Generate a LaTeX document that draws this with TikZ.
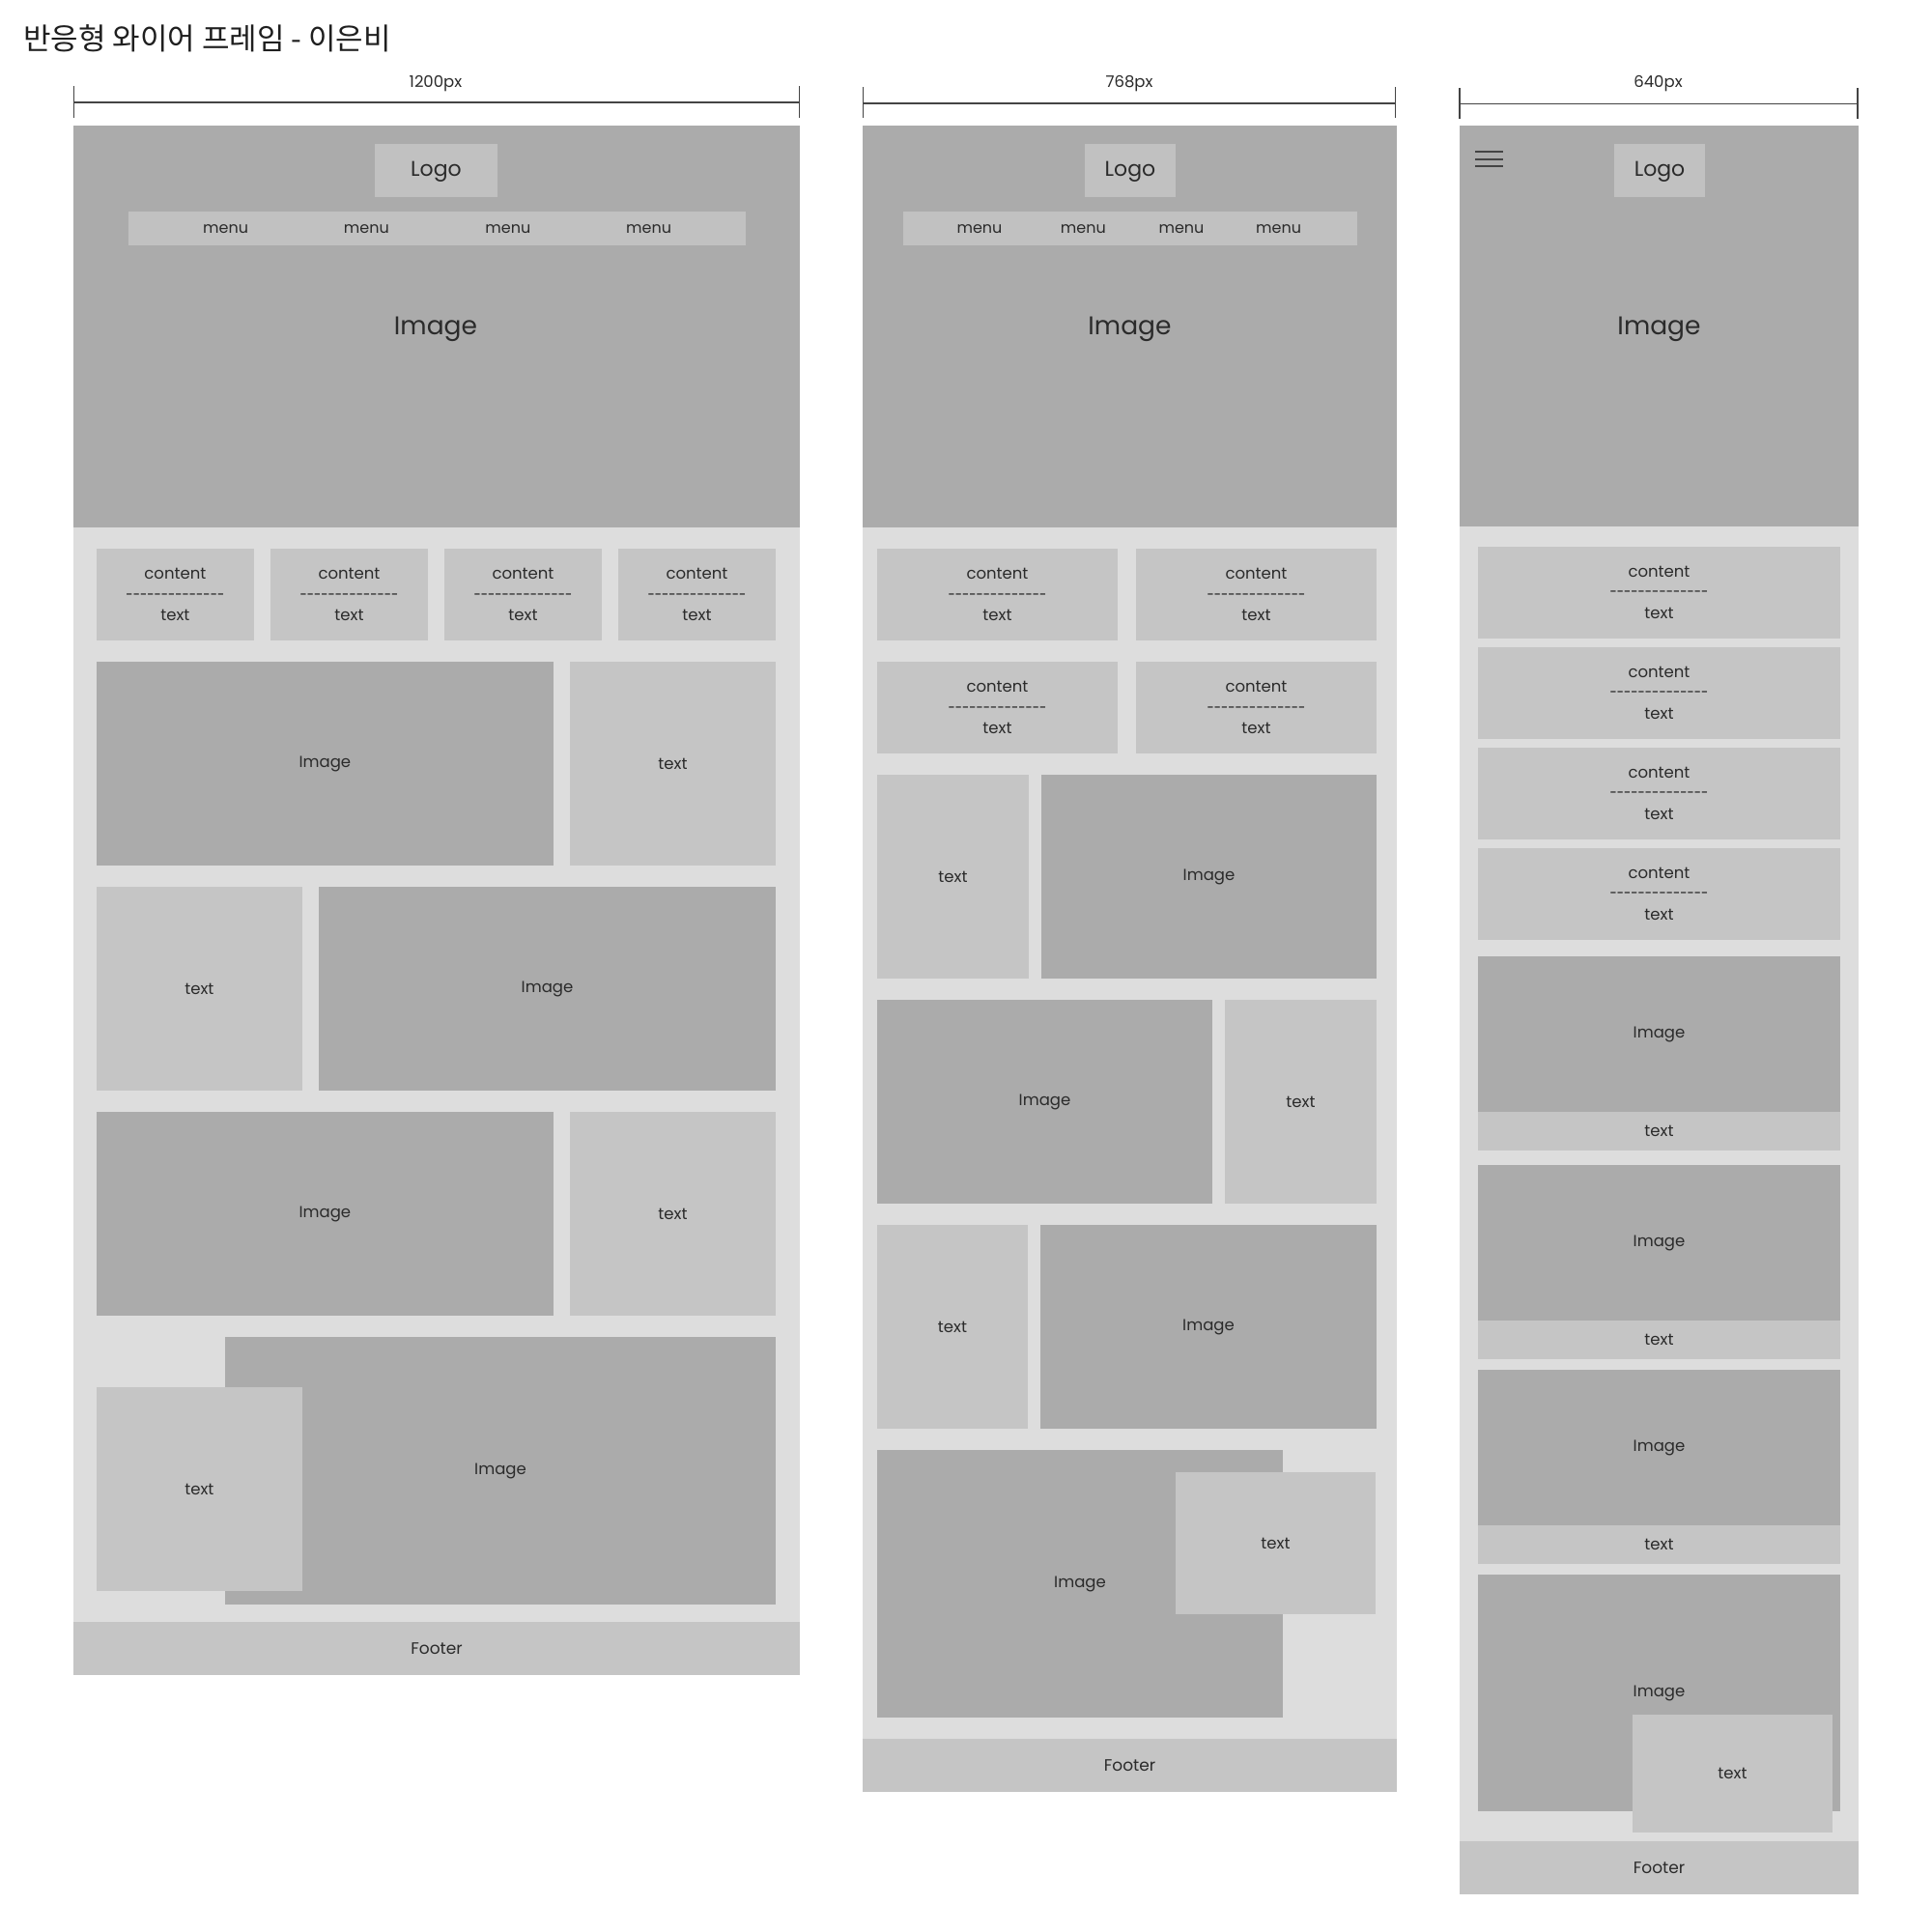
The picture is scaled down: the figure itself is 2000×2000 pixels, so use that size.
\documentclass[tikz,border=0pt]{standalone}
\usepackage{fontspec}
\usepackage{graphicx}
\setmainfont{Poppins}
\newfontfamily\krfont{Noto Sans CJK KR}
\usetikzlibrary{calc}
\definecolor{cImg}{HTML}{ABABAB}
\definecolor{cBox}{HTML}{C5C5C5}
\definecolor{cLogo}{HTML}{C1C1C1}
\definecolor{cBody}{HTML}{DDDDDD}
\definecolor{cTxt}{HTML}{2B2B2B}
\definecolor{cDim}{HTML}{444444}
\tikzset{
  lbl/.style={text=cTxt, inner sep=0pt, align=center, font=\fontsize{16.5}{21.5}\selectfont},
  menulbl/.style={lbl, font=\fontsize{16}{19}\selectfont},
  logolbl/.style={lbl, font=\fontsize{22}{26}\selectfont},
  biglbl/.style={lbl, font=\fontsize{26.5}{30}\selectfont},
  footlbl/.style={lbl, font=\fontsize{17}{20}\selectfont},
  dimlbl/.style={text=cTxt, inner sep=0pt, font=\fontsize{16.5}{19}\selectfont},
  dimln/.style={draw=cDim, line width=1.6pt},
  burger/.style={draw=cDim, line width=2pt},
}
\def\wfd{-\kern0pt}
\newcommand{\wfdashes}{\scalebox{0.8}[1]{\wfd\wfd\wfd\wfd\wfd\wfd\wfd\wfd\wfd\wfd\wfd\wfd\wfd\wfd}}
\newcommand{\wfct}{content\\\wfdashes\\text}
% name, x1, y1, x2, y2, fill, label style, text
\newcommand{\wfb}[8]{\fill[#6] (#2,#3) rectangle (#4,#5);
  \node[#7] (#1) at ($(#2,#3)!.5!(#4,#5)$) {#8};}
\begin{document}
\begin{tikzpicture}[x=1pt,y=-1pt]
\useasboundingbox[fill=white] (0,0) rectangle (2000,2000);

\node[anchor=west, inner sep=0pt, text=black!88, font=\krfont\fontsize{31}{35}\selectfont] (title) at (24,40) {반응형 와이어 프레임 - 이은비};

% ---------------- column 1 : 1200px ----------------
\draw[dimln] (76.5,106) -- (827.5,106);
\draw[dimln] (76.5,89) -- (76.5,122);
\draw[dimln] (827.5,89) -- (827.5,122);
\node[dimlbl] (dimA) at (451,86.5) {1200px};

\wfb{hA}{76}{130}{828}{546}{cImg}{biglbl}{}
\node[biglbl] (hAimg) at (451,341) {Image};
\wfb{logoA}{388}{149}{515}{204}{cLogo}{logolbl}{}
\node[logolbl] (logoAt) at (451.5,177.5) {Logo};
\fill[cLogo] (133,219) rectangle (772,254);
\node[menulbl] (mA1) at (233.6,237.5) {menu};
\node[menulbl] (mA2) at (379.4,237.5) {menu};
\node[menulbl] (mA3) at (525.8,237.5) {menu};
\node[menulbl] (mA4) at (671.6,237.5) {menu};

\fill[cBody] (76,546) rectangle (828,1679);
\wfb{cA1}{99.8}{568}{263}{663}{cBox}{lbl}{\wfct}
\wfb{cA2}{280}{568}{443}{663}{cBox}{lbl}{\wfct}
\wfb{cA3}{460}{568}{623}{663}{cBox}{lbl}{\wfct}
\wfb{cA4}{640}{568}{803}{663}{cBox}{lbl}{\wfct}

\wfb{iA1}{99.8}{685}{573}{896}{cImg}{lbl}{Image}
\wfb{tA1}{590}{685}{803}{896}{cBox}{lbl}{text}
\wfb{tA2}{99.8}{918}{313}{1129}{cBox}{lbl}{text}
\wfb{iA2}{330}{918}{803}{1129}{cImg}{lbl}{Image}
\wfb{iA3}{99.8}{1151}{573}{1362}{cImg}{lbl}{Image}
\wfb{tA3}{590}{1151}{803}{1362}{cBox}{lbl}{text}
\wfb{iA4}{233}{1384}{803}{1661}{cImg}{lbl}{Image}
\wfb{tA4}{99.8}{1436}{313}{1647}{cBox}{lbl}{text}
\wfb{fA}{76}{1679}{828}{1734}{cBox}{footlbl}{Footer}

% ---------------- column 2 : 768px ----------------
\draw[dimln] (893.5,107) -- (1444.5,107);
\draw[dimln] (893.5,90) -- (893.5,122);
\draw[dimln] (1444.5,90) -- (1444.5,122);
\node[dimlbl] (dimB) at (1169,86.5) {768px};

\wfb{hB}{893}{130}{1446}{546}{cImg}{biglbl}{}
\node[biglbl] (hBimg) at (1169.5,341) {Image};
\wfb{logoB}{1123}{149}{1217}{204}{cLogo}{logolbl}{}
\node[logolbl] (logoBt) at (1170,177.5) {Logo};
\fill[cLogo] (935,219) rectangle (1405,254);
\node[menulbl] (mB1) at (1014,237.5) {menu};
\node[menulbl] (mB2) at (1121.4,237.5) {menu};
\node[menulbl] (mB3) at (1223,237.5) {menu};
\node[menulbl] (mB4) at (1323.6,237.5) {menu};

\fill[cBody] (893,546) rectangle (1446,1800);
\wfb{cB1}{908}{568}{1157}{663}{cBox}{lbl}{\wfct}
\wfb{cB2}{1176}{568}{1425}{663}{cBox}{lbl}{\wfct}
\wfb{cB3}{908}{685}{1157}{780}{cBox}{lbl}{\wfct}
\wfb{cB4}{1176}{685}{1425}{780}{cBox}{lbl}{\wfct}

\wfb{tB1}{908}{802}{1065}{1013}{cBox}{lbl}{text}
\wfb{iB1}{1078}{802}{1425}{1013}{cImg}{lbl}{Image}
\wfb{iB2}{908}{1035}{1255}{1246}{cImg}{lbl}{Image}
\wfb{tB2}{1268}{1035}{1425}{1246}{cBox}{lbl}{text}
\wfb{tB3}{908}{1268}{1064}{1479}{cBox}{lbl}{text}
\wfb{iB3}{1077}{1268}{1425}{1479}{cImg}{lbl}{Image}
\wfb{iB4}{908}{1501}{1328}{1778}{cImg}{lbl}{Image}
\wfb{tB4}{1217}{1524}{1424}{1671}{cBox}{lbl}{text}
\wfb{fB}{893}{1800}{1446}{1855}{cBox}{footlbl}{Footer}

% ---------------- column 3 : 640px ----------------
\draw[dimln] (1511,107.5) -- (1923,107.5);
\draw[dimln] (1511,91) -- (1511,123);
\draw[dimln] (1923,91) -- (1923,123);
\node[dimlbl] (dimC) at (1716.5,86.5) {640px};

\wfb{hC}{1511}{130}{1924}{545}{cImg}{biglbl}{}
\node[biglbl] (hCimg) at (1717.5,341) {Image};
\wfb{logoC}{1671}{149}{1765}{204}{cLogo}{logolbl}{}
\node[logolbl] (logoCt) at (1718,177.5) {Logo};
\draw[burger] (1527,157.3) -- (1556,157.3);
\draw[burger] (1527,164.8) -- (1556,164.8);
\draw[burger] (1527,172.3) -- (1556,172.3);

\fill[cBody] (1511,545) rectangle (1924,1906);
\wfb{cC1}{1530}{566}{1905}{660.5}{cBox}{lbl}{\wfct}
\wfb{cC2}{1530}{670}{1905}{764.5}{cBox}{lbl}{\wfct}
\wfb{cC3}{1530}{774}{1905}{868.5}{cBox}{lbl}{\wfct}
\wfb{cC4}{1530}{878}{1905}{972.5}{cBox}{lbl}{\wfct}

\wfb{iC1}{1530}{990}{1905}{1151}{cImg}{lbl}{Image}
\wfb{tC1}{1530}{1151}{1905}{1191}{cBox}{lbl}{text}
\wfb{iC2}{1530}{1206}{1905}{1367}{cImg}{lbl}{Image}
\wfb{tC2}{1530}{1367}{1905}{1407}{cBox}{lbl}{text}
\wfb{iC3}{1530}{1418}{1905}{1579}{cImg}{lbl}{Image}
\wfb{tC3}{1530}{1579}{1905}{1619}{cBox}{lbl}{text}
\wfb{iC4}{1530}{1630}{1905}{1875}{cImg}{lbl}{Image}
\wfb{tC4}{1690}{1775}{1897}{1897}{cBox}{lbl}{text}
\wfb{fC}{1511}{1906}{1924}{1961}{cBox}{footlbl}{Footer}
\end{tikzpicture}
\end{document}
